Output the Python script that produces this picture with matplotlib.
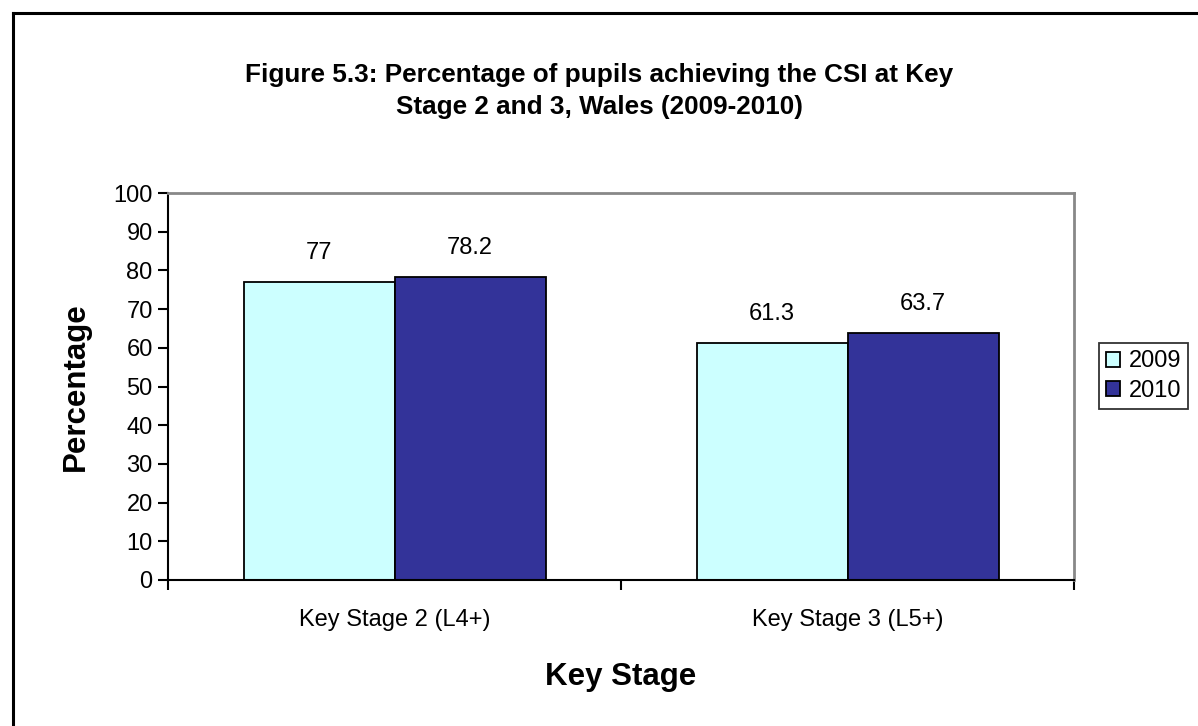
import numpy as np
import matplotlib.pyplot as plt
from matplotlib.lines import Line2D

plt.rcParams['font.family'] = ['Liberation Sans', 'DejaVu Sans']

# Data
categories = ['Key Stage 2 (L4+)', 'Key Stage 3 (L5+)']
years = ['2009', '2010']
values_2009 = [77, 61.3]
values_2010 = [78.2, 63.7]
labels_2009 = ['77', '61.3']
labels_2010 = ['78.2', '63.7']

W, H = 1198, 726
fig = plt.figure(figsize=(W / 100, H / 100), dpi=100)

# outer frame (only top and left visible, the rest is cut off)
fig.add_artist(Line2D([12.5 / W, 12.5 / W], [0, 1 - 12.5 / H], color='black', lw=2.2,
                      transform=fig.transFigure, solid_capstyle='projecting'))
fig.add_artist(Line2D([12.5 / W, 1], [1 - 12.5 / H, 1 - 12.5 / H], color='black', lw=2.2,
                      transform=fig.transFigure, solid_capstyle='projecting'))

left, right, top, bottom = 168, 1074, 193, 580
ax = fig.add_axes([left / W, (H - bottom) / H, (right - left) / W, (bottom - top) / H])

x = np.arange(len(categories))
bw = 1 / 3
b1 = ax.bar(x - bw / 2, values_2009, bw, color='#CCFFFF', edgecolor='black', lw=1.3, label=years[0])
b2 = ax.bar(x + bw / 2, values_2010, bw, color='#333399', edgecolor='black', lw=1.3, label=years[1])

# value labels above bars
for bars, labs in [(b1, labels_2009), (b2, labels_2010)]:
    for rect, lab in zip(bars, labs):
        ax.text(rect.get_x() + rect.get_width() / 2, rect.get_height() + 7.5, lab,
                ha='center', va='center', fontsize=17)

ax.set_xlim(-0.5, 1.5)
ax.set_ylim(0, 100)
ax.set_yticks(range(0, 101, 10))
ax.set_xticks(x)
ax.set_xticklabels(categories)
ax.set_xticks([-0.5, 0.5, 1.5], minor=True)
ax.tick_params(axis='x', which='major', length=0, labelsize=17, pad=21)
ax.tick_params(axis='x', which='minor', length=7, width=1.5, direction='out')
ax.tick_params(axis='y', length=7, width=1.5, direction='out', labelsize=17, pad=4)

for s in ['left', 'bottom']:
    ax.spines[s].set_color('black')
    ax.spines[s].set_linewidth(1.5)
for s in ['top', 'right']:
    ax.spines[s].set_color('#888888')
    ax.spines[s].set_linewidth(2)

ax.set_ylabel('Percentage', fontsize=22.5, fontweight='bold', labelpad=16)
ax.set_xlabel('Key Stage', fontsize=22.5, fontweight='bold', labelpad=22)

fig.text(0.5, 1 - 91 / H, 'Figure 5.3: Percentage of pupils achieving the CSI at Key\nStage 2 and 3, Wales (2009-2010)',
         ha='center', va='center', fontsize=18.8, fontweight='bold', linespacing=1.4)

leg = ax.legend(loc='center left', bbox_to_anchor=(1099 / W, 1 - 376 / H), bbox_transform=fig.transFigure,
                fontsize=17, frameon=True, fancybox=False, edgecolor='black', handlelength=0.6,
                handleheight=0.6, handletextpad=0.35, borderpad=0.3, labelspacing=0.3, borderaxespad=0)
leg.get_frame().set_linewidth(1.3)

fig.savefig('out.png', dpi=100)
